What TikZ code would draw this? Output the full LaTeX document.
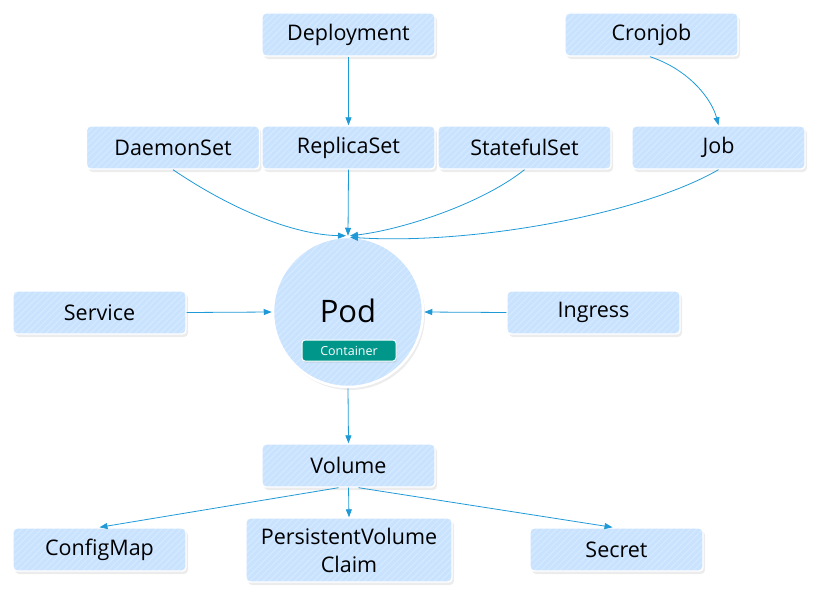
\documentclass[tikz,border=0pt]{standalone}
\usepackage{fontspec}
\setmainfont{Open Sans}
\usetikzlibrary{arrows.meta,patterns.meta,shadows}
\definecolor{boxfill}{HTML}{C9E3FF}
\definecolor{stripe}{HTML}{D5E9FF}
\definecolor{arrowc}{HTML}{1F9AD6}
\definecolor{teal}{HTML}{00968A}
\tikzset{
  kbox/.style={draw=white, line width=1.4pt, rounded corners=4pt,
    minimum width=173pt, minimum height=43pt, inner sep=2pt,
    font=\fontsize{21.5}{28}\selectfont, align=center,
    drop shadow={opacity=0.15, shadow xshift=2pt, shadow yshift=-3pt},
    preaction={fill=boxfill},
    pattern={Lines[angle=45,distance=4.5pt,line width=1.2pt]}, pattern color=stripe},
  podc/.style={circle, draw=white, line width=2.5pt, minimum size=150pt,
    drop shadow={opacity=0.15, shadow xshift=2pt, shadow yshift=-3pt},
    preaction={fill=boxfill},
    pattern={Lines[angle=45,distance=4.5pt,line width=1.2pt]}, pattern color=stripe},
  contbox/.style={draw=white, line width=1pt, rounded corners=3pt, fill=teal,
    text=white, minimum width=94pt, minimum height=21pt, inner sep=1pt,
    font=\fontsize{12.5}{14}\selectfont,
    drop shadow={opacity=0.2, shadow xshift=1pt, shadow yshift=-1.5pt}},
  conn/.style={draw=arrowc, line width=0.8pt, -{Triangle[length=8pt,width=6pt]}}
}
\begin{document}
\begin{tikzpicture}[x=1pt,y=-1pt]
\useasboundingbox (0,0) rectangle (826,602);
\node[kbox] (deploy) at (348.5,34.5) {Deployment};
\node[kbox] (cron) at (651.5,34.5) {Cronjob};
\node[kbox] (daemon) at (173,147.5) {DaemonSet};
\node[kbox] (replica) at (348.5,147.5) {ReplicaSet};
\node[kbox] (stateful) at (524.5,147.5) {StatefulSet};
\node[kbox] (job) at (718.5,147.5) {Job};
\node[kbox] (service) at (99.5,312.5) {Service};
\node[kbox] (ingress) at (593.5,312.5) {Ingress};
\node[podc] (pod) at (348,312) {};
\node[font=\fontsize{31}{34}\selectfont] (podlabel) at (348,311) {Pod};
\node[contbox] (container) at (349,350.5) {Container};
\node[kbox] (volume) at (348.5,465.5) {Volume};
\node[kbox] (configmap) at (99.5,549.5) {ConfigMap};
\node[kbox, minimum width=206pt, minimum height=64pt] (pvc) at (349,550) {PersistentVolume\\Claim};
\node[kbox] (secret) at (616.5,549.5) {Secret};

\draw[conn] (deploy.south) -- (replica.north);
\draw[conn] ([xshift=-1.5pt]cron.south) .. controls (690,70) and (712,100) .. (job.north);
\draw[conn] (daemon.south) .. controls (240,215) and (300,235) .. ([xshift=-2pt]pod.north);
\draw[conn] (replica.south) -- (pod.north);
\draw[conn] (stateful.south) .. controls (480,205) and (400,230) .. ([xshift=2pt]pod.north);
\draw[conn] (job.south) .. controls (640,215) and (470,245) .. ([xshift=2pt,yshift=-1.5pt]pod.north);
\draw[conn] (service.east) -- (pod.west);
\draw[conn] (ingress.west) -- (pod.east);
\draw[conn] (pod.south) -- (volume.north);
\draw[conn] ([xshift=-10pt]volume.south) -- (configmap.north);
\draw[conn] (volume.south) -- (pvc.north);
\draw[conn] ([xshift=10pt]volume.south) -- ([xshift=-4pt]secret.north);
\end{tikzpicture}
\end{document}
